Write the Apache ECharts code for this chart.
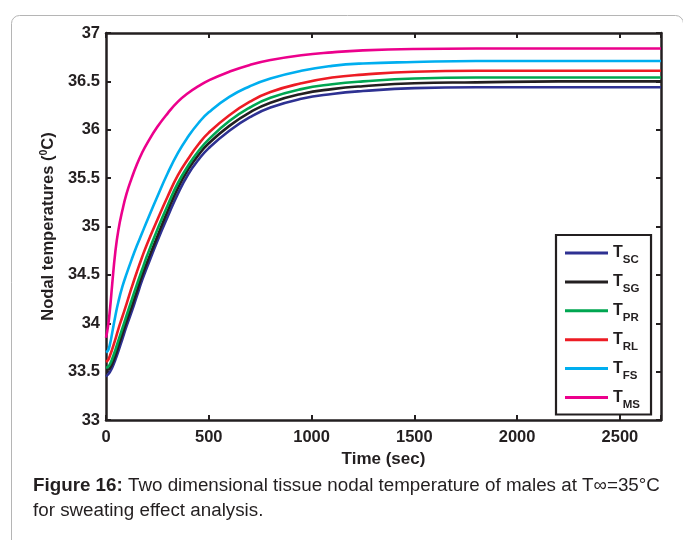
<!DOCTYPE html>
<html>
<head>
<meta charset="utf-8">
<script src="https://cdn.jsdelivr.net/npm/echarts@6/dist/echarts.min.js"></script>
<style>
html,body{margin:0;padding:0;background:#fff;}
#c{width:683px;height:540px;}
</style>
</head>
<body>
<div id="c"></div>
<script>
var times = [0, 10, 20, 30, 45, 60, 80, 100, 125, 150, 175, 200, 250, 300, 350, 400, 450, 500, 600, 700, 800, 950, 1100, 1250, 1500, 1800, 2200, 2700];
var tSC = [33.45, 33.47, 33.50, 33.54, 33.62, 33.71, 33.84, 33.97, 34.12, 34.28, 34.44, 34.58, 34.85, 35.10, 35.34, 35.54, 35.69, 35.81, 35.99, 36.13, 36.23, 36.32, 36.37, 36.40, 36.43, 36.44, 36.44, 36.44];
var tSG = [33.52, 33.52, 33.54, 33.58, 33.66, 33.76, 33.89, 34.02, 34.17, 34.33, 34.49, 34.63, 34.90, 35.16, 35.40, 35.59, 35.74, 35.86, 36.04, 36.18, 36.28, 36.37, 36.42, 36.45, 36.48, 36.49, 36.50, 36.50];
var tPR = [33.54, 33.55, 33.58, 33.63, 33.72, 33.82, 33.95, 34.08, 34.24, 34.40, 34.55, 34.70, 34.97, 35.22, 35.45, 35.63, 35.78, 35.90, 36.09, 36.23, 36.33, 36.42, 36.47, 36.50, 36.53, 36.54, 36.54, 36.54];
var tRL = [33.60, 33.62, 33.67, 33.73, 33.83, 33.94, 34.07, 34.20, 34.37, 34.53, 34.68, 34.82, 35.07, 35.31, 35.53, 35.70, 35.85, 35.97, 36.15, 36.29, 36.39, 36.48, 36.54, 36.57, 36.60, 36.61, 36.61, 36.61];
var tFS = [33.70, 33.72, 33.79, 33.90, 34.07, 34.22, 34.38, 34.51, 34.66, 34.80, 34.93, 35.06, 35.31, 35.55, 35.76, 35.93, 36.07, 36.18, 36.34, 36.45, 36.53, 36.61, 36.66, 36.685, 36.70, 36.71, 36.71, 36.71];
var tMS = [33.85, 33.97, 34.16, 34.40, 34.73, 34.96, 35.17, 35.34, 35.50, 35.64, 35.76, 35.86, 36.03, 36.17, 36.29, 36.38, 36.45, 36.51, 36.60, 36.67, 36.72, 36.77, 36.80, 36.82, 36.835, 36.84, 36.84, 36.84];
var seriesNames = ['SC', 'SG', 'PR', 'RL', 'FS', 'MS'];
var seriesColors = ['#2E3192', '#231F20', '#00A651', '#ED1C24', '#00AEEF', '#EC008C'];
var xTicks = [0, 500, 1000, 1500, 2000, 2500];
var yTicks = [33, 33.5, 34, 34.5, 35, 35.5, 36, 36.5, 37];

var values = [tSC, tSG, tPR, tRL, tFS, tMS];
var chart = echarts.init(document.getElementById('c'), null, {renderer: 'canvas'});
var F = 'Liberation Sans, Arial, sans-serif';
var axisCommon = {
  axisLine: {show: true, onZero: false, lineStyle: {color: '#231F20', width: 2.5}},
  axisTick: {show: true, inside: true, length: 5, lineStyle: {color: '#231F20', width: 2}},
  splitLine: {show: false}
};
function mk(o) { return Object.assign({}, axisCommon, o); }

var series = values.map(function (v, i) {
  return {
    name: seriesNames[i],
    type: 'line',
    xAxisIndex: 0, yAxisIndex: 0,
    data: times.map(function (t, j) { return [t, v[j]]; }),
    showSymbol: false,
    symbol: 'none',
    smooth: 0.5,
    lineStyle: {color: seriesColors[i], width: 2.6},
    itemStyle: {color: seriesColors[i]},
    z: 2 + i
  };
});

chart.setOption({
  animation: false,
  backgroundColor: '#fff',
  grid: {left: 106, right: 22, top: 33, bottom: 120, containLabel: false},
  xAxis: [
    mk({type: 'value', min: 0, max: 2700, interval: 500, position: 'bottom',
      name: 'Time (sec)', nameLocation: 'middle', nameGap: 27,
      nameTextStyle: {fontFamily: F, fontWeight: 'bold', fontSize: 17, color: '#231F20'},
      axisLabel: {fontFamily: F, fontWeight: 'bold', fontSize: 16.5, color: '#231F20', margin: 9,
        formatter: function (v) { return xTicks.indexOf(v) >= 0 ? String(v) : ''; }}}),
    mk({type: 'value', min: 0, max: 2700, interval: 500, position: 'top', axisLabel: {show: false}})
  ],
  yAxis: [
    mk({type: 'value', min: 33, max: 37, interval: 0.5, position: 'left',
      name: '{a|Nodal temperatures (}{s|0}{a|C)}', nameLocation: 'middle', nameGap: 47, nameRotate: 90,
      nameTextStyle: {rich: {
        a: {fontFamily: F, fontWeight: 'bold', fontSize: 16.5, color: '#231F20', lineHeight: 18, verticalAlign: 'bottom'},
        s: {fontFamily: F, fontWeight: 'bold', fontSize: 10.5, color: '#231F20', lineHeight: 10, verticalAlign: 'top'}
      }},
      axisLabel: {fontFamily: F, fontWeight: 'bold', fontSize: 16.5, color: '#231F20', margin: 6,
        formatter: function (v) { return yTicks.indexOf(v) >= 0 ? String(v) : ''; }}}),
    mk({type: 'value', min: 33, max: 37, interval: 0.5, position: 'right', axisLabel: {show: false}})
  ],
  legend: {
    orient: 'vertical', left: 556, top: 235,
    data: seriesNames,
    icon: 'rect', itemWidth: 43, itemHeight: 3, itemGap: 7.9,
    padding: [10, 11, 4, 9],
    borderColor: '#231F20', borderWidth: 2.2, backgroundColor: '#fff',
    formatter: function (n) { return '{t|T}{s|' + n + '}'; },
    textStyle: {rich: {
      t: {fontFamily: F, fontWeight: 'bold', fontSize: 16, color: '#231F20', lineHeight: 26, verticalAlign: 'middle'},
      s: {fontFamily: F, fontWeight: 'bold', fontSize: 11.5, color: '#231F20', lineHeight: 10, verticalAlign: 'bottom'}
    }}
  },
  graphic: [
    {type: 'rect', left: 9, top: 13, shape: {x: 0, y: 0, width: 672, height: 600, r: 8},
      style: {fill: 'none', stroke: '#b5b5b5', lineWidth: 1}, silent: true, z: -1},
    {type: 'text', left: 33, top: 476, style: {
      text: '{b|Figure 16:} Two dimensional tissue nodal temperature of males at T∞=35°C',
      font: '18.8px ' + F, fill: '#231F20',
      rich: {b: {fontFamily: F, fontWeight: 'bold', fontSize: 18.8, fill: '#231F20'}}
    }},
    {type: 'text', left: 33, top: 501, style: {
      text: 'for sweating effect analysis.', font: '18.8px ' + F, fill: '#231F20'
    }}
  ],
  series: series
});
</script>
</body>
</html>
